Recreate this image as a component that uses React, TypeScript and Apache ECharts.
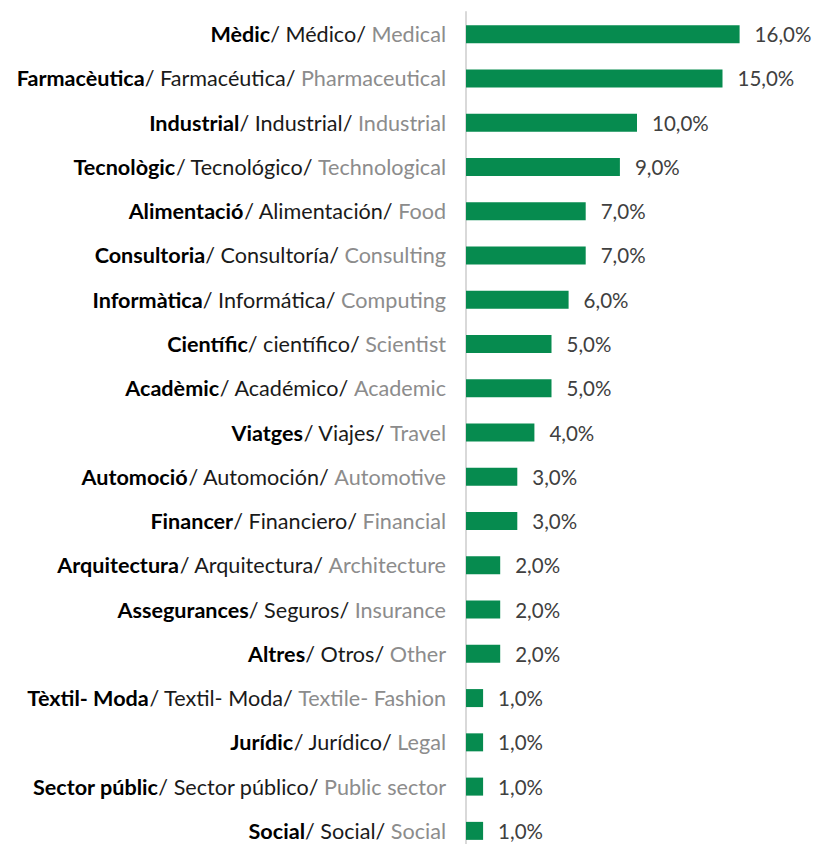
import React, { useEffect, useRef } from "react";
import * as echarts from "echarts";

const catalan = ["Mèdic", "Farmacèutica", "Industrial", "Tecnològic", "Alimentació", "Consultoria", "Informàtica", "Científic", "Acadèmic", "Viatges", "Automoció", "Financer", "Arquitectura", "Assegurances", "Altres", "Tèxtil- Moda", "Jurídic", "Sector públic", "Social"];
const spanish = ["Médico", "Farmacéutica", "Industrial", "Tecnológico", "Alimentación", "Consultoría", "Informática", "científico", "Académico", "Viajes", "Automoción", "Financiero", "Arquitectura", "Seguros", "Otros", "Textil- Moda", "Jurídico", "Sector público", "Social"];
const english = ["Medical", "Pharmaceutical", "Industrial", "Technological", "Food", "Consulting", "Computing", "Scientist", "Academic", "Travel", "Automotive", "Financial", "Architecture", "Insurance", "Other", "Textile- Fashion", "Legal", "Public sector", "Social"];
const values = [16, 15, 10, 9, 7, 7, 6, 5, 5, 4, 3, 3, 2, 2, 2, 1, 1, 1, 1];

const FONT = "Lato";
const LF = 21.6;

export default function App() {
  const ref = useRef<HTMLDivElement>(null);
  useEffect(() => {
    if (!ref.current) return;
    const chart = echarts.init(ref.current, null, { renderer: "svg" });
    chart.setOption({
      animation: false,
      backgroundColor: "#ffffff",
      grid: {
        left: 466,
        top: 12,
        width: 342,
        height: 841,
        containLabel: false,
        outerBoundsMode: "none",
      },
      xAxis: {
        type: "value",
        min: 0,
        max: 20,
        show: false,
      },
      yAxis: {
        type: "category",
        inverse: true,
        data: catalan.map((c, i) => i),
        axisLine: { show: true, lineStyle: { color: "#d9d9d9", width: 2 } },
        axisTick: { show: false },
        axisLabel: {
          margin: 20,
          fontFamily: FONT,
          fontSize: LF,
          formatter: (v: string) => {
            const i = Number(v);
            return `{b|${catalan[i]}}{r|/ ${spanish[i]}/ }{g|${english[i]}}`;
          },
          rich: {
            b: { fontFamily: FONT, fontSize: LF, fontWeight: "bold", color: "#000000" },
            r: { fontFamily: FONT, fontSize: LF, color: "#1a1a1a" },
            g: { fontFamily: FONT, fontSize: LF, color: "#8c8c8c" },
          },
        },
      },
      series: [
        {
          type: "bar",
          data: values,
          barWidth: 18,
          itemStyle: { color: "#068b4f" },
          label: {
            show: true,
            position: "right",
            distance: 15,
            fontFamily: FONT,
            fontSize: 20.5,
            color: "#404040",
            formatter: (p: any) => `${Number(p.value).toFixed(1).replace(".", ",")}%`,
          },
        },
      ],
    });
    return () => chart.dispose();
  }, []);
  return (
    <div
      ref={ref}
      style={{ position: "absolute", left: 0, top: 0, width: 814, height: 844 }}
    />
  );
}
